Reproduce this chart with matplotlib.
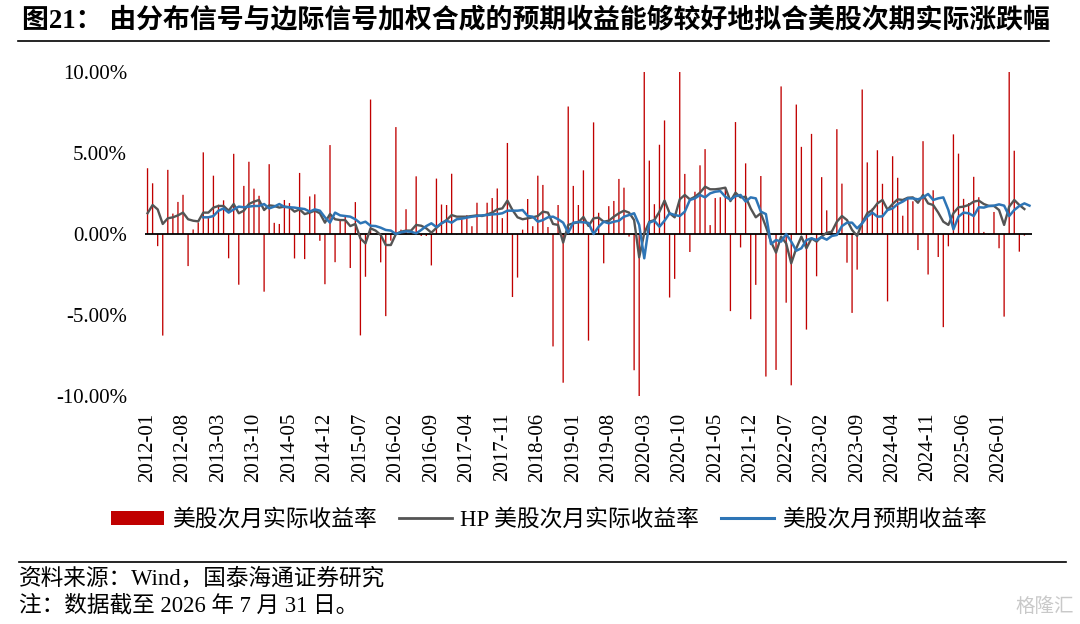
import matplotlib
matplotlib.use("Agg")
import matplotlib.pyplot as plt
import numpy as np
import pandas as pd
from matplotlib.lines import Line2D
from matplotlib.patches import Patch
from matplotlib.ticker import FuncFormatter

FONTS = ["Liberation Serif", "Noto Sans CJK SC", "DejaVu Sans"]
plt.rcParams["font.family"] = FONTS

months = pd.period_range("2012-01", "2026-07", freq="M").strftime("%Y-%m").tolist()

# 美股次月实际收益率 (%), 2012-01 .. 2026-06
actual_next = [
    4.06, 3.13, -0.75, -6.27, 3.96, 1.26, 1.98, 2.42, -1.98, 0.28, 0.71, 5.04,
    1.11, 3.60, 1.81, 2.08, -1.50, 4.95, -3.13, 2.97, 4.46, 2.80, 2.36, -3.56,
    4.31, 0.69, 0.62, 2.10, 1.91, -1.51, 3.77, -1.55, 2.32, 2.45, -0.42, -3.10,
    5.49, -1.74, 0.85, 1.05, -2.10, 1.97, -6.26, -2.64, 8.30, 0.05, -1.75, -5.07,
    -0.41, 6.60, 0.27, 1.53, 0.09, 3.56, -0.12, -0.12, -1.94, 3.42, 1.82, 1.79,
    3.72, -0.04, 0.91, 1.16, 0.48, 1.93, 0.05, 1.93, 2.22, 2.81, 0.98, 5.62,
    -3.89, -2.69, 0.27, 2.16, 0.48, 3.60, 3.03, 0.43, -6.94, 1.79, -9.18, 7.87,
    2.97, 1.79, 3.93, -6.58, 6.89, 1.31, -1.81, 1.72, 2.04, 3.40, 2.86, -0.16,
    -8.41, -12.51, 12.68, 4.53, 1.84, 5.51, 7.01, -3.92, -2.77, 10.75, 3.71, -1.11,
    2.61, 4.24, 5.24, 0.55, 2.22, 2.27, 2.90, -4.76, 6.91, -0.83, 4.36, -5.26,
    -3.14, 3.58, -8.80, 0.01, -8.39, 9.11, -4.24, -9.34, 7.99, 5.38, -5.90, 6.18,
    -2.61, 3.51, 1.46, 0.25, 6.47, 3.11, -1.77, -4.87, -2.20, 8.92, 4.42, 1.59,
    5.17, 3.10, -4.16, 4.80, 3.47, 1.13, 2.28, 2.02, -0.99, 5.73, -2.50, 2.70,
    -1.42, -5.75, -0.76, 6.15, 4.96, 2.17, 1.91, 3.53, 2.27, 0.13, -0.05, 1.36,
    -0.88, -5.10, 10.00, 5.14, -1.09, -0.10,
]

# HP 美股次月实际收益率 (%), 2012-01 .. 2026-06
hp_actual = [
    1.28, 1.79, 1.52, 0.62, 0.97, 1.03, 1.15, 1.32, 0.91, 0.82, 0.78, 1.32,
    1.32, 1.63, 1.73, 1.73, 1.44, 1.85, 1.28, 1.44, 1.85, 2.00, 2.10, 1.48,
    1.77, 1.73, 1.63, 1.69, 1.65,
    1.38, 1.52, 1.23, 1.32, 1.44, 1.28, 0.70, 1.23, 0.91, 0.86, 0.86, 0.49,
    0.62, -0.27, -0.58, 0.35, 0.21, -0.06, -0.68, -0.68, 0.00, 0.14, 0.21, 0.21,
    0.56, 0.51, 0.35, 0.08, 0.38,
    0.66, 0.86, 1.17, 1.07, 1.07, 1.07, 1.11, 1.15, 1.11, 1.21, 1.32, 1.52,
    1.58, 2.06, 1.48, 1.03, 0.91, 0.97, 1.03, 1.11, 1.38, 1.32, 0.62, 0.56,
    -0.53, 0.56, 0.66, 0.72, 1.05, 0.50,
    0.97, 1.01, 0.76, 0.82, 1.07, 1.28, 1.44, 1.32, 0.86, -1.44, 0.04, 0.76,
    0.86, 1.38, 2.06, 1.28, 1.03, 2.14, 2.41, 2.14, 2.30, 2.55, 2.92, 2.76,
    2.76, 2.80, 2.86, 2.03, 2.55,
    2.26, 2.30, 1.58, 1.03, 1.28, 0.45, -0.47, -1.15, -0.16, -0.58, -1.81, -0.88,
    -0.16, -0.88, -0.27, -0.47, -0.16, 0.08, 0.14, 0.76, 1.11, 0.86, 0.25, -0.12,
    0.70, 1.28, 1.48, 1.89, 2.10, 1.50,
    1.85, 2.14, 2.10, 2.24, 2.26, 1.93, 2.41, 1.89, 1.79, 1.32, 0.76, 0.56,
    1.28, 1.65, 1.69, 1.79, 2.00, 2.06, 1.85, 1.73, 1.73, 1.48, 0.56, 1.69,
    2.10, 1.79, 1.54,
]

# 美股次月预期收益率 (%), 2012-12 .. 2026-07
pred_start = "2012-12"
predicted = [
    1.03, 1.03, 1.11, 1.44, 1.58, 1.32, 1.52, 1.69, 1.65, 1.69, 1.73, 1.73,
    1.85, 1.58, 1.69, 1.85, 1.67, 1.65,
    1.63, 1.58, 1.54, 1.38, 1.52, 1.44, 1.03, 0.70, 1.32, 1.15, 1.11, 1.07,
    0.91, 0.66, 0.76, 0.51, 0.49, 0.39, 0.25, 0.21, 0.00, 0.10, 0.16, 0.14,
    0.04, 0.25, 0.49, 0.66, 0.43,
    0.66, 0.82, 0.70, 0.91, 0.95, 1.01, 1.07, 1.11, 1.15, 1.17, 1.21, 1.23,
    1.28, 1.44, 1.44, 1.44, 1.48, 1.11, 1.07, 0.76, 0.86, 1.03, 1.07, 0.91,
    0.70, 0.08, 0.70, 0.74, 0.72, 0.68,
    0.00, 0.45, 0.76, 0.66, 0.76, 0.82, 1.07, 1.17, 1.28, 0.56, -1.50, 0.70,
    0.82, 0.45, 0.82, 1.28, 1.17, 1.11, 1.38, 2.10, 2.20, 2.41, 2.26, 2.51,
    2.61, 2.65, 2.30, 2.12, 2.33,
    2.41, 2.00, 2.26, 2.20, 1.38, 1.23, -0.62, -0.37, -0.47, 0.00, -0.47, -1.03,
    -0.88, -0.37, -0.27, -0.37, -0.20, -0.35, -0.12, -0.06, 0.49, 0.70, 0.70, 0.35,
    0.66, 1.07, 1.32, 1.07, 1.09, 1.48,
    1.58, 1.85, 2.00, 2.20, 2.20, 2.14, 2.26, 2.47, 2.10, 2.20, 2.26, 1.48,
    0.29, 1.07, 1.32, 1.28, 1.11, 1.65, 1.63, 1.73, 1.75, 1.83, 1.75, 1.11,
    1.48, 1.73, 1.89, 1.75,
]

title = "图21： 由分布信号与边际信号加权合成的预期收益能够较好地拟合美股次期实际涨跌幅"
source_note = "资料来源：Wind，国泰海通证券研究"
date_note = "注：数据截至 2026 年 7 月 31 日。"
legend_labels = ["美股次月实际收益率", "HP 美股次月实际收益率", "美股次月预期收益率"]

RED = "#C00000"
GRAY = "#545454"
BLUE = "#2E75B6"

W, H = 1080, 624
fig = plt.figure(figsize=(W / 100, H / 100), dpi=100)
ax = fig.add_axes([145 / W, 1 - 396 / H, (1032 - 145) / W, (396 - 72) / H])

x_bar = np.arange(len(actual_next))
x_hp = np.arange(len(hp_actual))
x_pred = np.arange(len(predicted)) + months.index(pred_start)

# thin unsnapped bars give the soft, uneven red of the original
ax.bar(x_bar, actual_next, width=0.26, color=RED, linewidth=0, zorder=1, snap=False)
ax.axhline(0, color="black", linewidth=1.3, zorder=2)
ax.plot(x_hp, hp_actual, color=GRAY, linewidth=1.7, zorder=3)
ax.plot(x_pred, predicted, color=BLUE, linewidth=1.8, zorder=4)

ax.set_xlim(-0.5, len(months) - 0.5)
ax.set_ylim(-10, 10)
ax.set_yticks([-10, -5, 0, 5, 10])
ax.yaxis.set_major_formatter(FuncFormatter(lambda v, _: f"{v:.2f}%"))

tick_pos = np.arange(0, len(months), 7)
ax.set_xticks(tick_pos)
ax.set_xticklabels([months[i] for i in tick_pos], rotation=90)

for side in ax.spines.values():
    side.set_visible(False)
ax.tick_params(axis="y", length=0, pad=13, labelsize=15)
ax.tick_params(axis="x", length=0, pad=12, labelsize=15)
for lab in ax.get_xticklabels() + ax.get_yticklabels():
    lab.set_family(FONTS)

# legend under the axis labels
handles = [
    Patch(facecolor=RED, edgecolor="none"),
    Line2D([], [], color=GRAY, linewidth=2),
    Line2D([], [], color=BLUE, linewidth=2.2),
]
fig.legend(handles, legend_labels, loc="center", bbox_to_anchor=(549 / W, 1 - 520 / H),
           ncol=3, frameon=False, prop={"family": FONTS, "size": 16.4},
           handlelength=2.3, handleheight=0.55, handletextpad=0.35, columnspacing=1.0)

# title and rules
fig.text(22 / W, 1 - 21 / H, title, fontsize=19.4, fontweight="bold", va="center", ha="left",
         family=FONTS)
fig.add_artist(Line2D([18 / W, 1049 / W], [1 - 41 / H] * 2, color="black", linewidth=1.2))
fig.add_artist(Line2D([19 / W, 1066 / W], [1 - 562 / H] * 2, color="black", linewidth=1.2))

fig.text(19 / W, 1 - 579 / H, source_note, fontsize=16.3, va="center", ha="left", family=FONTS)
fig.text(19 / W, 1 - 606 / H, date_note, fontsize=16.3, va="center", ha="left", family=FONTS)
fig.text(1074 / W, 1 - 607 / H, "格隆汇", fontsize=14, color="#c9c9c9", va="center",
         ha="right", family=FONTS)

fig.savefig("out.png", dpi=100)
